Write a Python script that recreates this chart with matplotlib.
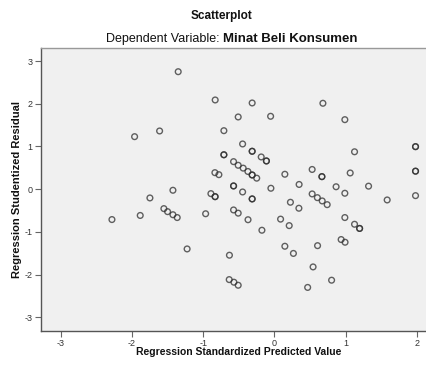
# -*- coding: utf-8 -*-
import matplotlib
matplotlib.use('Agg')
import matplotlib.pyplot as plt
import numpy

# regression standardized predicted value (x) and studentized residual (y)
# repeated pairs are cases that sit on top of each other
pred = [
    -1.962, -1.611, -1.350, -0.831, -0.312, 0.681, -0.508, -0.053, 0.989,
    -0.709, -0.446, -0.312, -0.312, 1.125, 1.981, 1.981, -0.709, -0.709,
    -0.185, -0.112, -0.112, -0.573, -0.508, -0.438, -0.372, -0.312, -0.312,
    -0.248, -0.835, -0.779, 0.147, 0.530, 0.667, 0.667, 1.064, 1.981, 1.981,
    -0.573, -0.573, -0.446, -0.049, 0.347, 0.866, 1.322, -1.424, -1.747,
    -0.891, -0.832, -0.832, -0.312, -0.312, 0.530, 0.603, 0.671, 0.741,
    0.989, 1.583, 1.981, 0.225, 0.344, -0.965, -0.573, -0.508, -0.370,
    0.087, 0.989, -1.551, -1.499, -1.424, -1.364, -1.883, -2.280, -0.175,
    0.208, 1.125, 1.196, 1.196, 0.937, 0.992, 0.606, 0.147, 0.267, -1.225,
    -0.631, 0.543, 0.803, 0.467, -0.634, -0.568, -0.508,
]
resid = [
    1.229, 1.362, 2.750, 2.088, 2.018, 2.011, 1.690, 1.706, 1.627,
    1.369, 1.058, 0.887, 0.887, 0.875, 0.995, 0.995, 0.805, 0.805,
    0.754, 0.660, 0.660, 0.644, 0.559, 0.492, 0.414, 0.332, 0.332,
    0.257, 0.386, 0.339, 0.349, 0.461, 0.293, 0.293, 0.379, 0.421, 0.421,
    0.075, 0.075, -0.066, 0.021, 0.110, 0.056, 0.070, -0.026, -0.206,
    -0.105, -0.176, -0.176, -0.229, -0.229, -0.112, -0.199, -0.276, -0.363,
    -0.096, -0.253, -0.152, -0.307, -0.447, -0.576, -0.487, -0.562, -0.716,
    -0.702, -0.665, -0.456, -0.527, -0.599, -0.665, -0.616, -0.712, -0.962,
    -0.854, -0.822, -0.920, -0.920, -1.180, -1.243, -1.323, -1.337, -1.505,
    -1.400, -1.547, -1.821, -2.132, -2.301, -2.118, -2.179, -2.250,
]
ticks = [-3, -2, -1, 0, 1, 2, 3]

title = 'Scatterplot'
subtitle = 'Dependent Variable:'
dep_var = 'Minat Beli Konsumen'
xlabel = 'Regression Standardized Predicted Value'
ylabel = 'Regression Studentized Residual'

plt.rcParams['font.family'] = ['Liberation Sans', 'DejaVu Sans']

fig = plt.figure(figsize=(4.26, 3.65), dpi=100)
# the plot runs off the right edge of the picture, as in the original
ax = fig.add_axes([0.0962, 0.0932, 0.913, 0.776])
ax.set_facecolor('#f0f0f0')

ax.scatter(numpy.array(pred), numpy.array(resid), s=17, facecolors='none',
           edgecolors='#2e2e2e', linewidths=1.0, alpha=0.75, zorder=3)

ax.set_xlim(-3.276, 2.183)
ax.set_ylim(-3.321, 3.311)
ax.set_xticks(ticks[:-1])
ax.set_yticks(ticks)
ax.set_xticklabels([str(t) for t in ticks[:-1]])
ax.set_yticklabels([str(t) for t in ticks])
ax.tick_params(length=4, width=0.8, color='#666666', labelsize=6.5,
               labelcolor='#333333', pad=2)

for side in ('left', 'bottom', 'top'):
    ax.spines[side].set_color('#555555')
    ax.spines[side].set_linewidth(1.0)
ax.spines['top'].set_color('#999999')
ax.spines['right'].set_visible(False)

fig.text(0.520, 0.955, title, ha='center', va='center', fontsize=8.5,
         fontweight='bold', color='#111111')
fig.text(0.249, 0.893, subtitle, ha='left', va='center',
         fontsize=9, color='#111111')
fig.text(0.523, 0.893, dep_var, ha='left', va='center', fontsize=9.5,
         fontweight='bold', color='#111111')

fig.text(0.561, 0.036, xlabel, ha='center', va='center', fontsize=7.5,
         fontweight='bold', color='#111111')
fig.text(0.040, 0.482, ylabel, ha='center', va='center', rotation=90,
         fontsize=8, fontweight='bold', color='#111111')

fig.savefig('out.png', dpi=100, facecolor='white')
